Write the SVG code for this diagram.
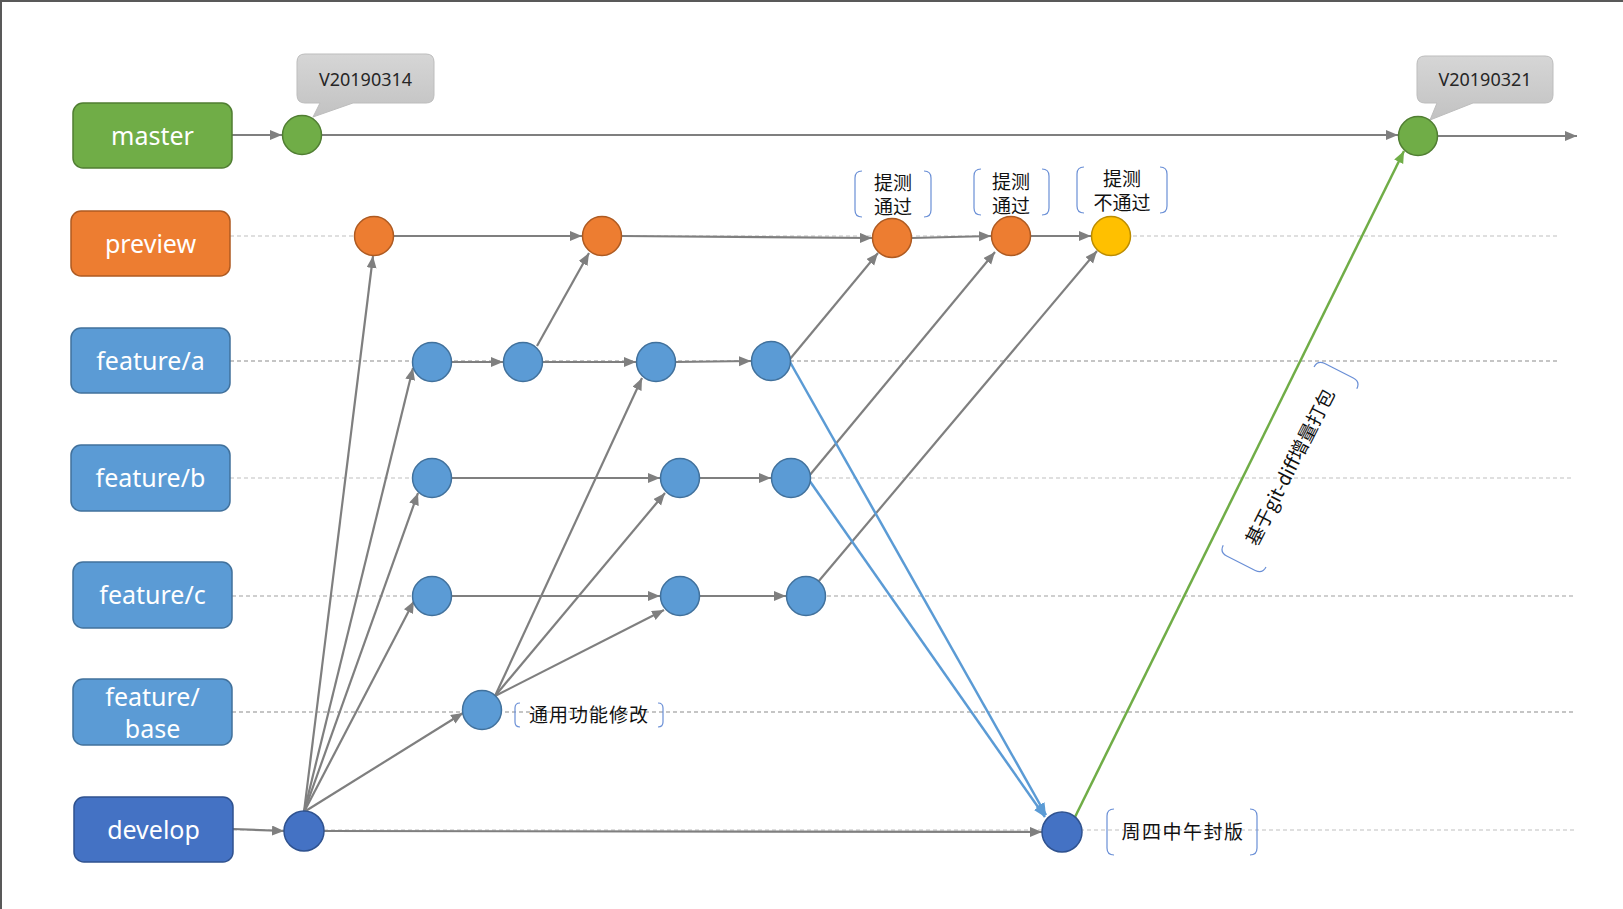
<svg xmlns="http://www.w3.org/2000/svg" width="1623" height="909" viewBox="0 0 1623 909">
<style>
.box{stroke-width:1.5}
.lbl{font-family:"Noto Sans","Noto Sans CJK SC",sans-serif;font-size:25px;fill:#fff;text-anchor:middle}
.cjk{font-family:"Noto Sans CJK SC","Noto Sans",sans-serif;font-size:19px;fill:#111;text-anchor:middle}
.ver{font-family:"Noto Sans","Noto Sans CJK SC",sans-serif;font-size:18px;fill:#262626;text-anchor:middle}
.dash{stroke-width:1.2;stroke-dasharray:4 3;fill:none}
.g{stroke:#7f7f7f;stroke-width:2.2;fill:none;marker-end:url(#ag)}
.bl{stroke:#5b9bd5;stroke-width:2.5;fill:none;marker-end:url(#ab)}
.gr{stroke:#70ad47;stroke-width:2.5;fill:none;marker-end:url(#agr)}
.brk{stroke:#6a8fd6;stroke-width:1.2;fill:none}
.cg{fill:#70ad47;stroke:#507e32;stroke-width:1.5}
.co{fill:#ed7d31;stroke:#ae5a21;stroke-width:1.5}
.cb{fill:#5b9bd5;stroke:#41719c;stroke-width:1.5}
.cd{fill:#4472c4;stroke:#2f528f;stroke-width:1.5}
.cy{fill:#ffc000;stroke:#bc8c00;stroke-width:1.5}
.call{fill:url(#cgrad);stroke:#bdbdbd;stroke-width:1}
</style>
<defs>
<linearGradient id="cgrad" x1="0" y1="0" x2="0" y2="1"><stop offset="0" stop-color="#d6d6d6"/><stop offset="1" stop-color="#c2c2c2"/></linearGradient>
<marker id="ag" markerUnits="userSpaceOnUse" markerWidth="13" markerHeight="11" refX="12" refY="5" orient="auto"><path d="M0,0 L12,5 L0,10 z" fill="#7f7f7f"/></marker>
<marker id="ab" markerUnits="userSpaceOnUse" markerWidth="13" markerHeight="11" refX="12" refY="5" orient="auto"><path d="M0,0 L12,5 L0,10 z" fill="#5b9bd5"/></marker>
<marker id="agr" markerUnits="userSpaceOnUse" markerWidth="13" markerHeight="11" refX="12" refY="5" orient="auto"><path d="M0,0 L12,5 L0,10 z" fill="#70ad47"/></marker>
</defs>
<rect width="1623" height="909" fill="#fff"/>
<path d="M1,909 V1 H1623" stroke="#595959" stroke-width="2" fill="none"/>

<g id="lanes">
<path class="dash" stroke="#bfbfbf" d="M230,236 H1557"/>
<path class="dash" stroke="#8c8c8c" d="M230,361 H1557"/>
<path class="dash" stroke="#bfbfbf" d="M230,478 H1572"/>
<path class="dash" stroke="#a0a0a0" d="M232,596 H1573"/>
<path class="dash" stroke="#8c8c8c" d="M232,712 H1573"/>
<path class="dash" stroke="#bfbfbf" d="M233,830 H1574"/>
</g>

<g id="connectors">
<path class="g" d="M232,135 L282,135"/>
<path class="g" d="M322,135 L1398,135"/>
<path class="g" d="M1438,136 L1577,136"/>
<path class="g" d="M394,236 L582,236"/>
<path class="g" d="M622,236 L872,238"/>
<path class="g" d="M912,238 L991,236"/>
<path class="g" d="M1031,236 L1091,236"/>
<path class="g" d="M452,362 L503,362"/>
<path class="g" d="M543,362 L636,362"/>
<path class="g" d="M676,362 L751,361"/>
<path class="g" d="M452,478 L660,478"/>
<path class="g" d="M700,478 L771,478"/>
<path class="g" d="M452,596 L660,596"/>
<path class="g" d="M700,596 L786,596"/>
<path class="g" d="M233,829 L284,831"/>
<path class="g" d="M324,831 L1042,832"/>
<path class="g" d="M304,812 L373,256"/>
<path class="g" d="M304,812 L413,368"/>
<path class="g" d="M304,812 L418,493"/>
<path class="g" d="M304,812 L414,601"/>
<path class="g" d="M304,812 L463,713"/>
<path class="g" d="M495,696 L642,378"/>
<path class="g" d="M495,696 L665,493"/>
<path class="g" d="M495,696 L664,610"/>
<path class="g" d="M537,346 L589,253"/>
<path class="g" d="M790,359 L878,253"/>
<path class="g" d="M809,476 L995,252"/>
<path class="g" d="M818,582 L1097,251"/>
<path class="bl" d="M790,362 L1046,815"/>
<path class="bl" d="M809,480 L1045,817"/>
<path class="gr" d="M1075,817 L1404,151"/>
</g>

<g id="box-master"><rect class="box" x="73" y="103" width="159" height="65" rx="10" fill="#70ad47" stroke="#507e32"/><text class="lbl" x="152.5" y="144.5">master</text></g>
<g id="box-preview"><rect class="box" x="71" y="211" width="159" height="65" rx="10" fill="#ed7d31" stroke="#ae5a21"/><text class="lbl" x="150.5" y="252.5">preview</text></g>
<g id="box-feature-a"><rect class="box" x="71" y="328" width="159" height="65" rx="10" fill="#5b9bd5" stroke="#41719c"/><text class="lbl" x="150.5" y="369.5">feature/a</text></g>
<g id="box-feature-b"><rect class="box" x="71" y="445" width="159" height="66" rx="10" fill="#5b9bd5" stroke="#41719c"/><text class="lbl" x="150.5" y="487">feature/b</text></g>
<g id="box-feature-c"><rect class="box" x="73" y="562" width="159" height="66" rx="10" fill="#5b9bd5" stroke="#41719c"/><text class="lbl" x="152.5" y="604">feature/c</text></g>
<g id="box-feature-base"><rect class="box" x="73" y="679" width="159" height="66" rx="10" fill="#5b9bd5" stroke="#41719c"/><text class="lbl" x="152.5" y="705.5">feature/<tspan x="152.5" dy="32">base</tspan></text></g>
<g id="box-develop"><rect class="box" x="74" y="797" width="159" height="65" rx="10" fill="#4472c4" stroke="#2f528f"/><text class="lbl" x="153.5" y="838.5">develop</text></g>

<g id="callout-1"><path class="call" d="M305,54 H426 Q434,54 434,62 V95 Q434,103 426,103 H353 L313,117 L320,103 H305 Q297,103 297,95 V62 Q297,54 305,54 Z"/><text class="ver" x="365.5" y="85.5">V20190314</text></g>
<g id="callout-2"><path class="call" d="M1425,56 H1545 Q1553,56 1553,64 V95 Q1553,103 1545,103 H1473 L1430,120 L1437,103 H1425 Q1417,103 1417,95 V64 Q1417,56 1425,56 Z"/><text class="ver" x="1485" y="86">V20190321</text></g>

<g id="node-m1"><circle class="cg" cx="302" cy="135" r="19.5"/></g>
<g id="node-m2"><circle class="cg" cx="1418" cy="136" r="19.5"/></g>
<g id="node-p1"><circle class="co" cx="374" cy="236" r="19.5"/></g>
<g id="node-p2"><circle class="co" cx="602" cy="236" r="19.5"/></g>
<g id="node-p3"><circle class="co" cx="892" cy="238" r="19.5"/></g>
<g id="node-p4"><circle class="co" cx="1011" cy="236" r="19.5"/></g>
<g id="node-p5"><circle class="cy" cx="1111" cy="236" r="19.5"/></g>
<g id="node-a1"><circle class="cb" cx="432" cy="362" r="19.5"/></g>
<g id="node-a2"><circle class="cb" cx="523" cy="362" r="19.5"/></g>
<g id="node-a3"><circle class="cb" cx="656" cy="362" r="19.5"/></g>
<g id="node-a4"><circle class="cb" cx="771" cy="361" r="19.5"/></g>
<g id="node-b1"><circle class="cb" cx="432" cy="478" r="19.5"/></g>
<g id="node-b2"><circle class="cb" cx="680" cy="478" r="19.5"/></g>
<g id="node-b3"><circle class="cb" cx="791" cy="478" r="19.5"/></g>
<g id="node-c1"><circle class="cb" cx="432" cy="596" r="19.5"/></g>
<g id="node-c2"><circle class="cb" cx="680" cy="596" r="19.5"/></g>
<g id="node-c3"><circle class="cb" cx="806" cy="596" r="19.5"/></g>
<g id="node-base"><circle class="cb" cx="482" cy="710" r="19.5"/></g>
<g id="node-d1"><circle class="cd" cx="304" cy="831" r="20"/></g>
<g id="node-d2"><circle class="cd" cx="1062" cy="832" r="20"/></g>

<g id="note-1"><path class="brk" d="M862,171 Q855,171 855,178 V210 Q855,217 862,217 M924,171 Q931,171 931,178 V210 Q931,217 924,217"/><text class="cjk" x="893" y="190">提测<tspan x="893" dy="24">通过</tspan></text></g>
<g id="note-2"><path class="brk" d="M981,169 Q974,169 974,176 V208 Q974,215 981,215 M1042,169 Q1049,169 1049,176 V208 Q1049,215 1042,215"/><text class="cjk" x="1011" y="188.5">提测<tspan x="1011" dy="24">通过</tspan></text></g>
<g id="note-3"><path class="brk" d="M1084,167 Q1077,167 1077,174 V206 Q1077,213 1084,213 M1160,167 Q1167,167 1167,174 V206 Q1167,213 1160,213"/><text class="cjk" x="1122" y="186">提测<tspan x="1122" dy="24">不通过</tspan></text></g>
<g id="note-base"><path class="brk" d="M520,703 Q515,703 515,708 V722 Q515,727 520,727 M658,703 Q663,703 663,708 V722 Q663,727 658,727"/><text class="cjk" x="589" y="722" letter-spacing="1">通用功能修改</text></g>
<g id="note-freeze"><path class="brk" d="M1114,809 Q1107,809 1107,816 V848 Q1107,855 1114,855 M1250,809 Q1257,809 1257,816 V848 Q1257,855 1250,855"/><text class="cjk" x="1183" y="839" letter-spacing="1.5">周四中午封版</text></g>
<g id="note-diff" transform="translate(1290,467) rotate(-63)"><path class="brk" d="M-100,-24 Q-108,-24 -108,-16 V16 Q-108,24 -100,24 M100,-24 Q108,-24 108,-16 V16 Q108,24 100,24"/><text class="cjk" x="0" y="7" font-size="20">基于git-diff增量打包</text></g>
</svg>
